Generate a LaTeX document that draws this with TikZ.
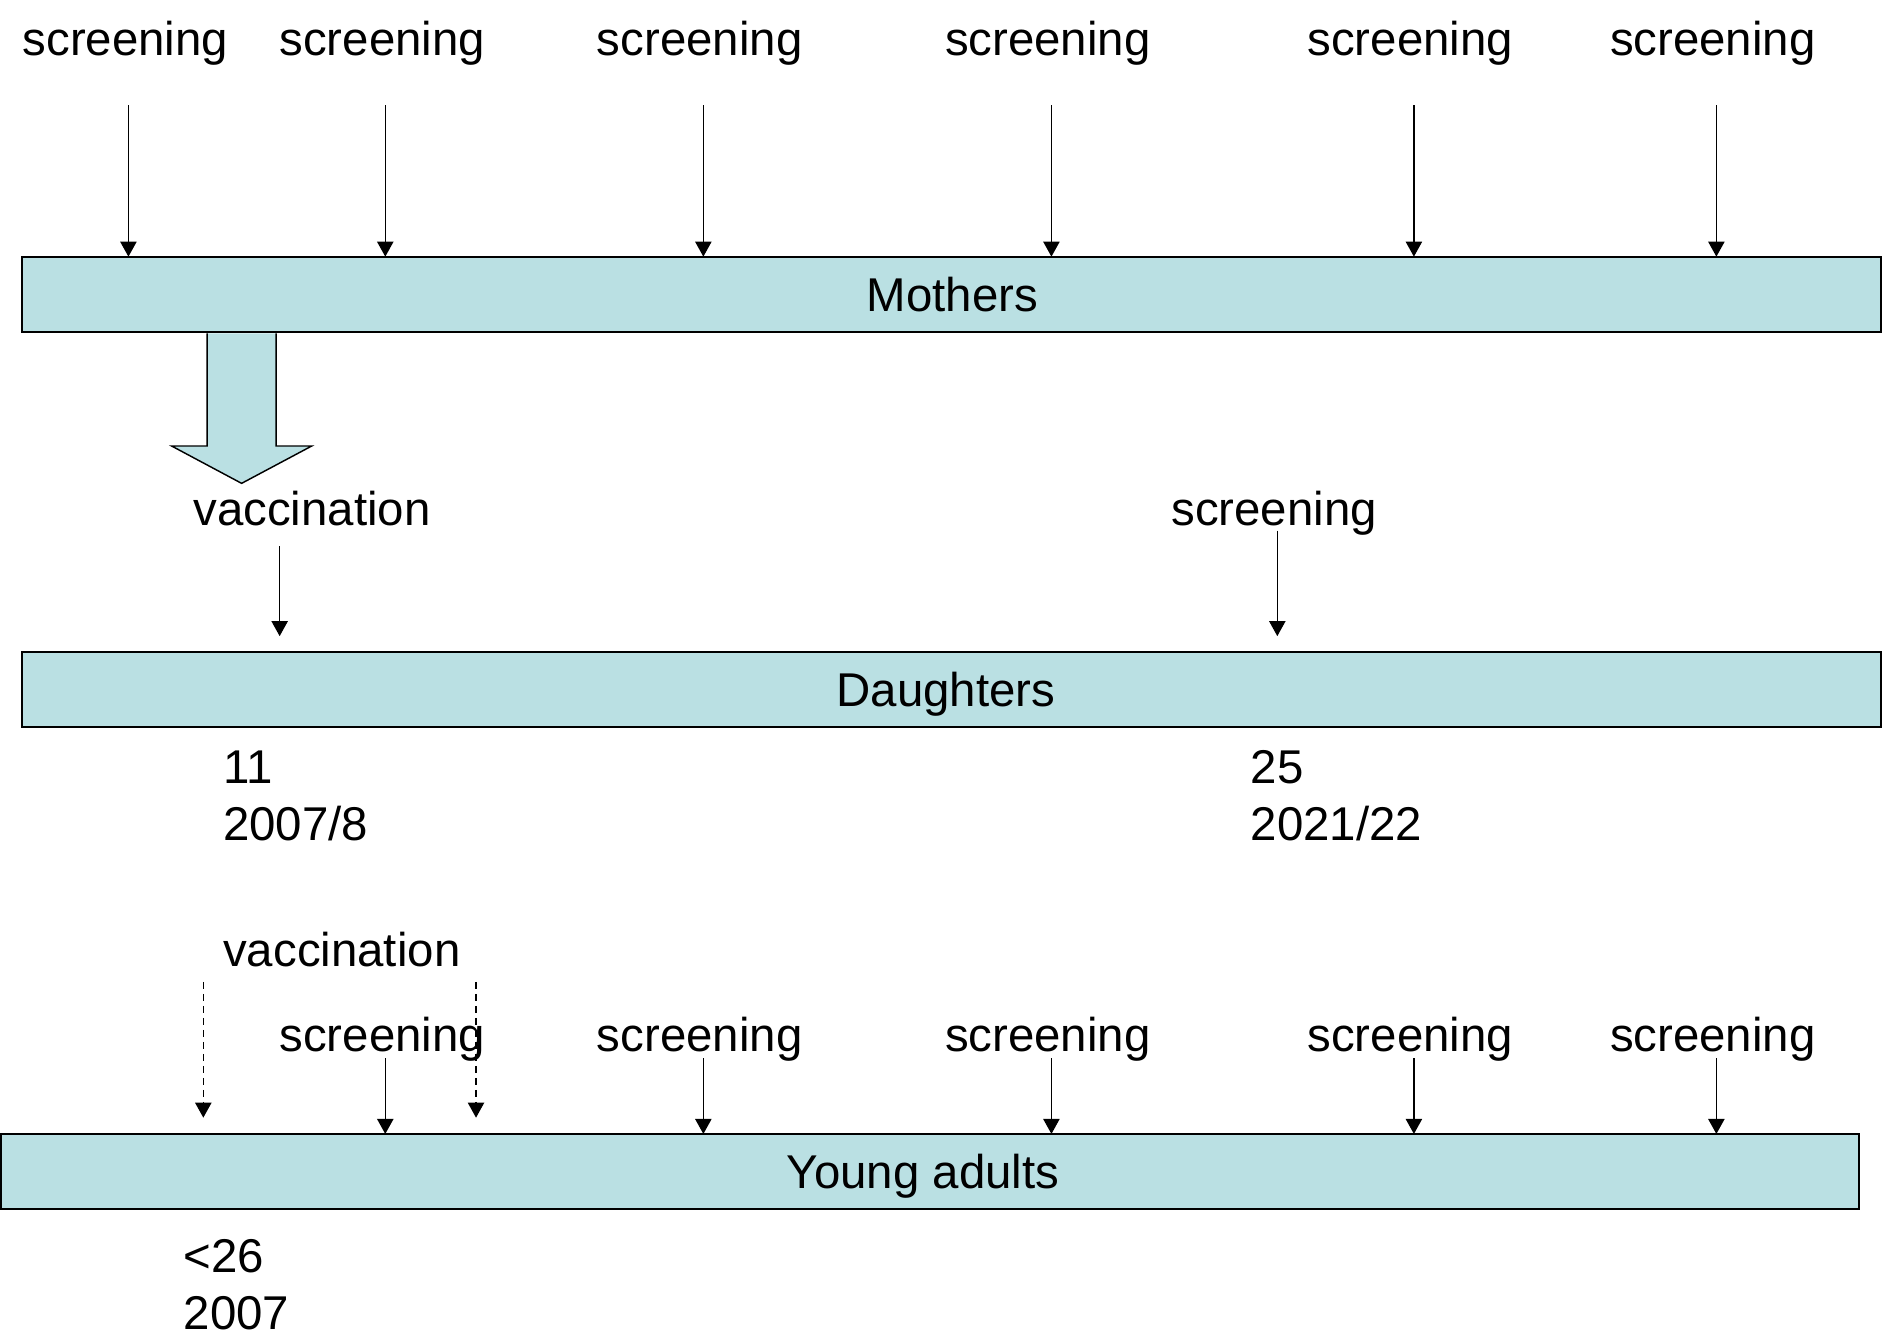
\documentclass[tikz,border=0pt]{standalone}
\usepackage{fontspec}
\setmainfont{Liberation Sans}
\usetikzlibrary{arrows.meta}
\definecolor{barfill}{RGB}{186,224,227}
\begin{document}
\begin{tikzpicture}[x=1pt,y=-1pt,
  every node/.style={font=\fontsize{39.5}{47.4}\selectfont, inner sep=0pt, outer sep=0pt},
  bar/.style={draw=black, fill=barfill, line width=1.6pt, minimum height=63pt},
  bartext/.style={text height=28.3pt, text depth=0pt},
  lbl/.style={anchor=base},
  lblw/.style={anchor=base west},
  arr/.style={line width=1.3pt, -{Triangle[width=13.5pt,length=12.5pt]}},
  darr/.style={arr, dash pattern=on 6pt off 4pt},
  bigarrow/.style={draw=black, fill=barfill, line width=1.2pt, line join=miter},
]
\useasboundingbox (0,0) rectangle (1568,1116.4);

% bars
\node[bar, minimum width=1548.9pt, minimum height=63.1pt] (mothers) at (793,245.4) {};
\node[bar, minimum width=1548.9pt, minimum height=63.1pt] (daughters) at (793,574.5) {};
\node[bar, minimum width=1548.5pt, minimum height=62.5pt] (young) at (774.8,976) {};
\node[bartext] (motherst) at (793.5,245.4) {Mothers};
\node[bartext] (daughterst) at (788,574.5) {Daughters};
\node[bartext] (youngt) at (769,976) {Young adults};

% big arrow mothers -> vaccination
\path[bigarrow] (172.5,277.8) -- (172.5,371.6) -- (143,371.6) -- (201.3,402.7)
  -- (259.7,371.6) -- (230,371.6) -- (230,277.8);

% top screenings
\foreach \i/\cx/\ax in {1/104.5/107, 2/318.5/321, 3/583/586, 4/873/876, 5/1175/1178, 6/1427/1430}{
  \node[lbl] (ts\i) at (\cx,46) {screening};
  \coordinate (tsa\i) at (\ax,87.5);
  \draw[arr] (tsa\i) -- (tsa\i |- mothers.north);
}

% daughters labels
\node[lbl] (dvac) at (260,438) {vaccination};
\node[lbl] (dscr) at (1061.5,437.5) {screening};
\coordinate (dvaca) at (233,455);
\coordinate (dvace) at (233,530);
\coordinate (dscra) at (1064.2,442);
\coordinate (dscre) at (1064.2,530);
\draw[arr] (dvaca) -- (dvace);
\draw[arr] (dscra) -- (dscre);

\node[lblw] (d11) at (186,653) {11};
\node[lblw] (d2007) at (186,700) {2007/8};
\node[lblw] (d25) at (1042,653) {25};
\node[lblw] (d2021) at (1042,700) {2021/22};

% young adults
\node[lblw] (yvac) at (186,805) {vaccination};
\coordinate (yv1) at (169.4,818);
\coordinate (yv1e) at (169.4,931.2);
\coordinate (yv2) at (396.6,818);
\coordinate (yv2e) at (396.6,931.2);
\draw[darr] (yv1) -- (yv1e);
\draw[darr] (yv2) -- (yv2e);

\foreach \i/\cx/\ax in {2/318.5/321, 3/583/586, 4/873/876, 5/1175/1178, 6/1427/1430}{
  \node[lbl] (ys\i) at (\cx,876) {screening};
  \coordinate (ysa\i) at (\ax,881.6);
  \draw[arr] (ysa\i) -- (ysa\i |- young.north);
}

\node[lblw] (y26) at (153,1060) {<26};
\node[lblw] (y2007) at (153,1108) {2007};
\end{tikzpicture}
\end{document}
